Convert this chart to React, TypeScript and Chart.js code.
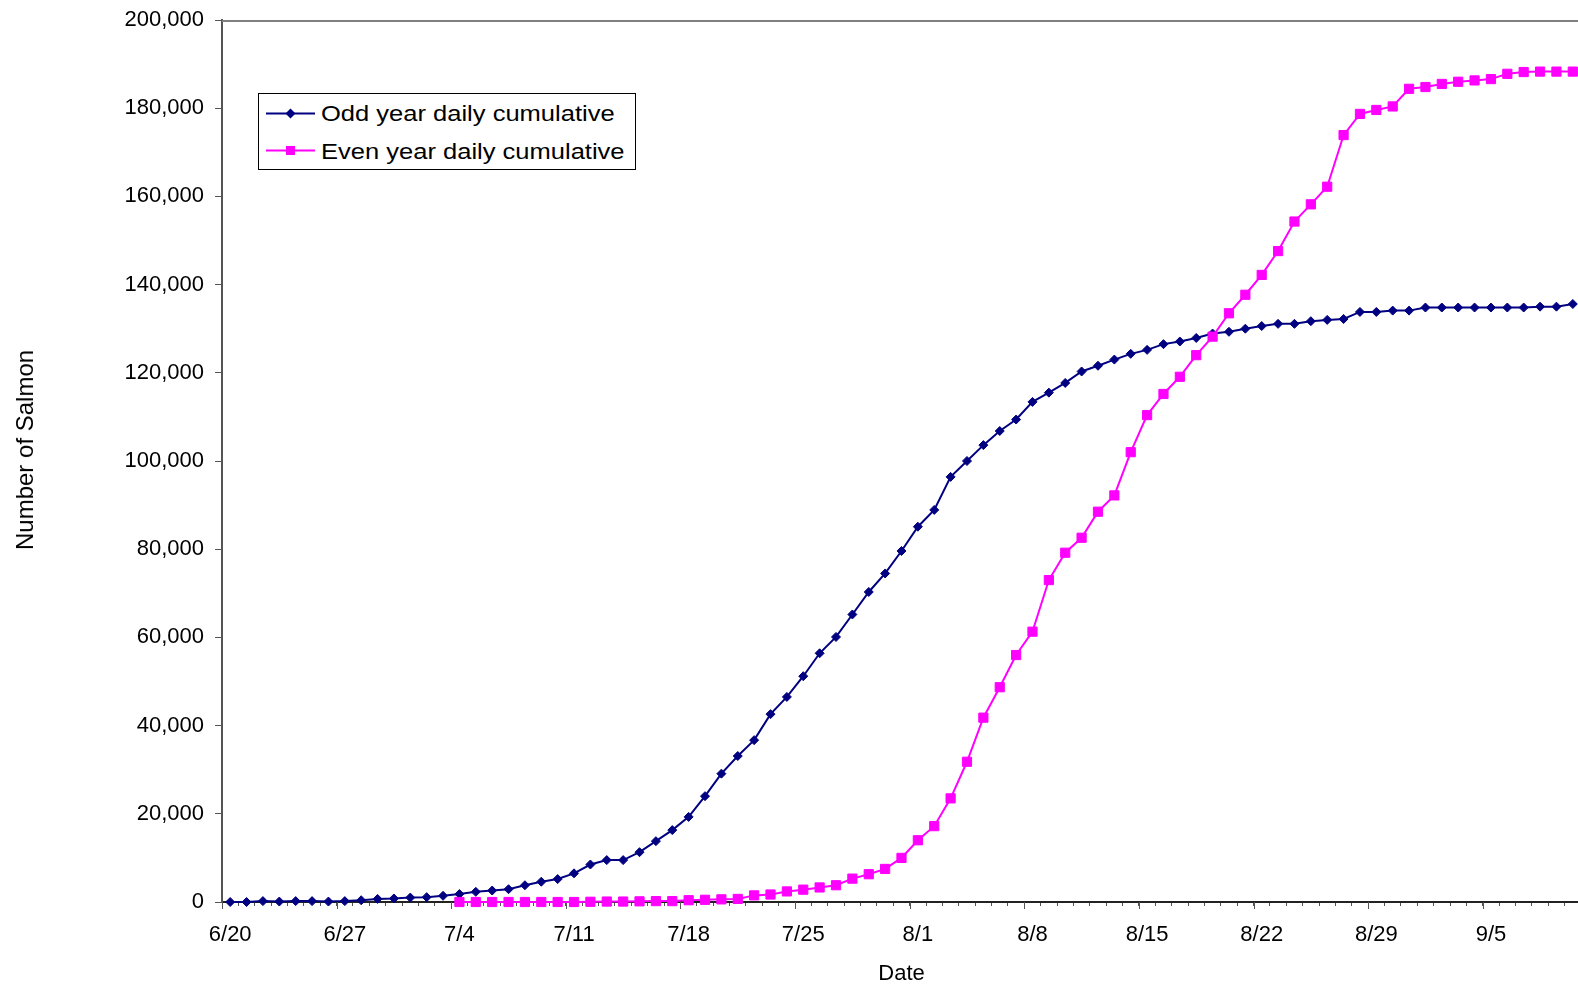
import React, { useEffect, useRef } from 'react';
import { Chart, registerables } from 'chart.js';

Chart.register(...registerables);

const FONT = "'Liberation Sans', Arial, sans-serif";

const dates = [
  '6/20', '6/21', '6/22', '6/23', '6/24', '6/25', '6/26', '6/27', '6/28', '6/29', '6/30',
  '7/1', '7/2', '7/3', '7/4', '7/5', '7/6', '7/7', '7/8', '7/9', '7/10',
  '7/11', '7/12', '7/13', '7/14', '7/15', '7/16', '7/17', '7/18', '7/19', '7/20',
  '7/21', '7/22', '7/23', '7/24', '7/25', '7/26', '7/27', '7/28', '7/29', '7/30', '7/31',
  '8/1', '8/2', '8/3', '8/4', '8/5', '8/6', '8/7', '8/8', '8/9', '8/10',
  '8/11', '8/12', '8/13', '8/14', '8/15', '8/16', '8/17', '8/18', '8/19', '8/20',
  '8/21', '8/22', '8/23', '8/24', '8/25', '8/26', '8/27', '8/28', '8/29', '8/30', '8/31',
  '9/1', '9/2', '9/3', '9/4', '9/5', '9/6', '9/7', '9/8', '9/9', '9/10',
];

const tickLabels = ['6/20', '6/27', '7/4', '7/11', '7/18', '7/25', '8/1', '8/8', '8/15', '8/22', '8/29', '9/5'];

const oddYear = [
  0, 0, 200, 100, 200, 200, 100, 200, 400, 700, 800,
  1000, 1100, 1400, 1800, 2300, 2600, 2900, 3800, 4600, 5200,
  6500, 8500, 9500, 9500, 11300, 13800, 16300, 19300, 24000, 29100,
  33100, 36700, 42600, 46500, 51200, 56400, 60100, 65200, 70300, 74500, 79600,
  85100, 88900, 96400, 100000, 103600, 106800, 109400, 113400, 115500, 117700,
  120300, 121600, 123000, 124300, 125200, 126500, 127100, 127900, 128900, 129300,
  130000, 130600, 131100, 131100, 131700, 132000, 132200, 133800, 133800, 134100, 134100,
  134800, 134800, 134800, 134800, 134800, 134800, 134800, 135000, 135000, 135600,
];

const evenYear = [
  null, null, null, null, null, null, null, null, null, null, null,
  null, null, null, 0, 0, 0, 0, 0, 0, 0,
  0, 50, 100, 100, 150, 200, 200, 400, 500, 600,
  700, 1500, 1700, 2400, 2800, 3300, 3800, 5300, 6300, 7500, 10000,
  14000, 17200, 23500, 31800, 41800, 48700, 56000, 61300, 73000, 79200,
  82600, 88500, 92200, 102000, 110400, 115200, 119100, 124000, 128200, 133500,
  137700, 142200, 147600, 154300, 158200, 162200, 173900, 178700, 179600, 180400, 184400,
  184800, 185500, 186000, 186300, 186600, 187800, 188200, 188300, 188300, 188300,
];

const seriesNames = ['Odd year daily cumulative', 'Even year daily cumulative'];
const yTitle = 'Number of Salmon';
const ODD_COLOR = '#000080';
const EVEN_COLOR = '#FF00FF';

const frameExtras = {
  id: 'frameExtras',
  beforeDatasetsDraw(chart: any) {
    const { ctx, chartArea } = chart;
    ctx.save();
    ctx.strokeStyle = '#808080';
    ctx.lineWidth = 2;
    ctx.beginPath();
    ctx.moveTo(chartArea.left, chartArea.top + 1);
    ctx.lineTo(chartArea.right, chartArea.top + 1);
    ctx.stroke();
    // longer tick marks at the boundaries before labelled categories
    const xs = chart.scales.x;
    const half = (xs.getPixelForValue(1) - xs.getPixelForValue(0)) / 2;
    ctx.strokeStyle = '#555555';
    ctx.lineWidth = 1;
    ctx.beginPath();
    dates.forEach((d, i) => {
      if (!tickLabels.includes(d)) return;
      const x = Math.round(xs.getPixelForValue(i) - half) + 0.5;
      ctx.moveTo(x, chartArea.bottom);
      ctx.lineTo(x, chartArea.bottom + 7);
    });
    ctx.stroke();
    ctx.restore();
  },
};

const zeroPadding = (s: any) => {
  s.paddingTop = 0;
  s.paddingBottom = 0;
  s.paddingLeft = 0;
  s.paddingRight = 0;
};

export default function App() {
  const canvasRef = useRef<HTMLCanvasElement | null>(null);

  useEffect(() => {
    if (!canvasRef.current) return;
    const chart = new Chart(canvasRef.current, {
      type: 'line',
      data: {
        labels: dates,
        datasets: [
          {
            label: seriesNames[0],
            data: oddYear,
            borderColor: ODD_COLOR,
            backgroundColor: ODD_COLOR,
            borderWidth: 2,
            pointStyle: 'rectRot',
            pointRadius: 4.5,
            pointBorderWidth: 1,
            pointBackgroundColor: ODD_COLOR,
            pointBorderColor: ODD_COLOR,
            tension: 0,
            clip: false,
            order: 1,
          },
          {
            label: seriesNames[1],
            data: evenYear,
            borderColor: EVEN_COLOR,
            backgroundColor: EVEN_COLOR,
            borderWidth: 2,
            pointStyle: 'rect',
            pointRadius: 6.5,
            pointBorderWidth: 1,
            pointBackgroundColor: EVEN_COLOR,
            pointBorderColor: EVEN_COLOR,
            tension: 0,
            clip: false,
            order: 0,
          },
        ],
      },
      options: {
        responsive: false,
        animation: false,
        layout: { autoPadding: false, padding: { top: 20, right: 0, bottom: 0, left: 0 } },
        plugins: {
          legend: { display: false },
          tooltip: { enabled: false },
        },
        scales: {
          x: {
            type: 'category',
            offset: true,
            grid: {
              display: true,
              drawOnChartArea: false,
              drawTicks: true,
              tickLength: 4,
              color: '#555555',
              offset: true,
            },
            border: { display: true, color: '#222222', width: 2 },
            ticks: {
              autoSkip: false,
              maxRotation: 0,
              minRotation: 0,
              padding: 16,
              color: '#000000',
              font: { family: FONT, size: 22 },
              callback: (_v: any, i: number) => (tickLabels.includes(dates[i]) ? dates[i] : ''),
            },
            title: {
              display: true,
              text: 'Date',
              color: '#000000',
              font: { family: FONT, size: 22 },
              padding: { top: 0, bottom: 0 },
            },
            afterFit: (s: any) => {
              s.height = 85;
              zeroPadding(s);
            },
          },
          y: {
            min: 0,
            max: 200000,
            grid: {
              display: true,
              drawOnChartArea: false,
              drawTicks: true,
              tickLength: 7,
              color: '#555555',
            },
            border: { display: true, color: '#555555', width: 2 },
            ticks: {
              stepSize: 20000,
              padding: 11,
              color: '#000000',
              font: { family: FONT, size: 22 },
              callback: (v: any) => Number(v).toLocaleString('en-US'),
            },
            title: { display: false },
            afterFit: (s: any) => {
              s.width = 222;
              zeroPadding(s);
            },
          },
        },
      },
      plugins: [frameExtras],
    } as any);
    return () => chart.destroy();
  }, []);

  const textStyle: React.CSSProperties = {
    position: 'absolute',
    left: 62,
    fontFamily: FONT,
    fontSize: 22,
    lineHeight: '22px',
    whiteSpace: 'nowrap',
    color: '#000',
    transform: 'scaleX(1.16)',
    transformOrigin: 'left center',
  };

  return (
    <div
      style={{
        position: 'fixed',
        left: 0,
        top: 0,
        width: 1578,
        height: 987,
        background: '#fff',
        overflow: 'hidden',
      }}
    >
      <canvas ref={canvasRef} width={1581} height={987} style={{ display: 'block' }} />
      <div
        style={{
          position: 'absolute',
          left: 25,
          top: 450,
          transform: 'translate(-50%, -50%) rotate(-90deg)',
          fontFamily: FONT,
          fontSize: 24,
          lineHeight: '28px',
          whiteSpace: 'nowrap',
          color: '#000',
        }}
      >
        {yTitle}
      </div>
      <div
        style={{
          position: 'absolute',
          left: 258,
          top: 93,
          width: 378,
          height: 77,
          boxSizing: 'border-box',
          border: '1px solid #000',
          background: '#fff',
        }}
      >
        <svg width={60} height={75} style={{ position: 'absolute', left: 0, top: 0 }}>
          <line x1={7} y1={19.5} x2={56} y2={19.5} stroke={ODD_COLOR} strokeWidth={2} />
          <polygon points="31.5,14.5 36.5,19.5 31.5,24.5 26.5,19.5" fill={ODD_COLOR} />
          <line x1={7} y1={56.5} x2={56} y2={56.5} stroke={EVEN_COLOR} strokeWidth={2} />
          <rect x={27} y={52} width={9} height={9} fill={EVEN_COLOR} />
        </svg>
        <span style={{ ...textStyle, top: 9 }}>{seriesNames[0]}</span>
        <span style={{ ...textStyle, top: 47 }}>{seriesNames[1]}</span>
      </div>
    </div>
  );
}
